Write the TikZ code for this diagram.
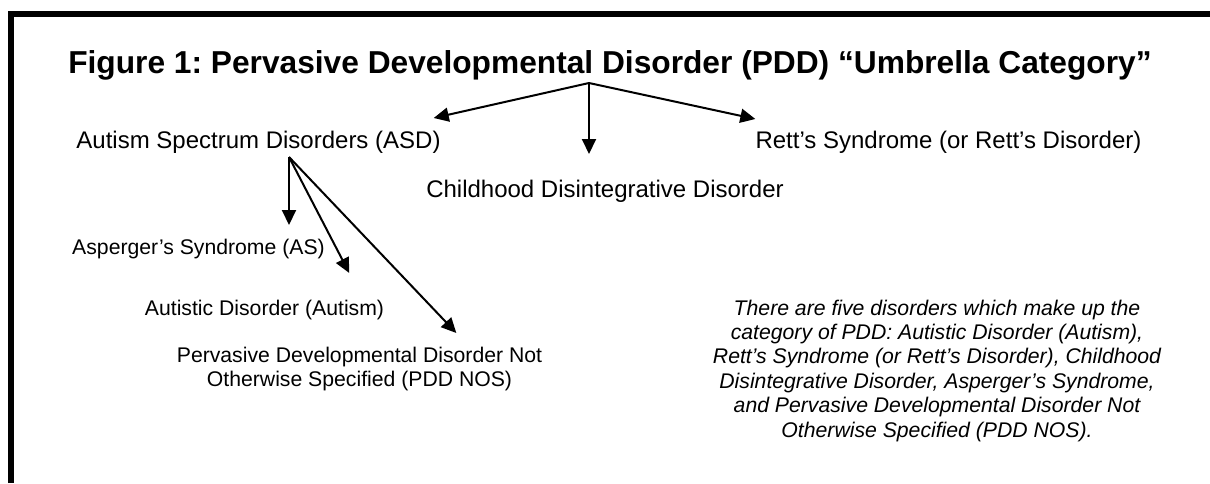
\documentclass[tikz,border=0pt]{standalone}
\usepackage{fontspec}
\setmainfont{Liberation Sans}
\usetikzlibrary{arrows.meta,calc}

\begin{document}
\frenchspacing
\begin{tikzpicture}[x=1pt,y=-1pt,
    >={Triangle[length=15pt,width=14pt]},
    heading/.style={font=\fontsize{31.7}{38}\selectfont\bfseries,inner sep=0pt,anchor=base},
    group/.style={font=\fontsize{24}{28}\selectfont,inner sep=0pt,anchor=base},
    subtype/.style={font=\fontsize{21.2}{23.5}\selectfont,inner sep=0pt,anchor=base,align=center},
    note/.style={font=\fontsize{21.2}{24.4}\selectfont\itshape,inner sep=0pt,anchor=base,align=center},
    branch/.style={line width=2pt,->}]
\useasboundingbox (0,0) rectangle (1210,483);
\draw[line width=5.5pt] (11,483) -- (11,14) -- (1215,14);
\node[heading] (title) at (610,73) {Figure 1: Pervasive Developmental Disorder (PDD) “Umbrella Category”};
\coordinate (top) at (589,83);
\node[group] (asd) at (258.5,148) {Autism Spectrum Disorders (ASD)};
\node[group] (cdd) at (605,197) {Childhood Disintegrative Disorder};
\node[group] (rett) at (948.5,148) {Rett’s Syndrome (or Rett’s Disorder)};
\draw[branch] (top) -- ([xshift=-7pt,yshift=30pt]asd.base east);
\draw[branch,shorten >=43pt] (top) -- (top |- cdd.base);
\draw[branch] (top) -- ([yshift=29pt]rett.base west);
% the three types under ASD
\coordinate (fork) at (289,157);
\node[subtype] (as) at (198.5,254) {Asperger’s Syndrome (AS)};
\node[subtype] (aut) at (264.5,315) {Autistic Disorder (Autism)};
\node[subtype] (nos) at (359.5,386) {Pervasive Developmental Disorder Not\\Otherwise Specified (PDD NOS)};
\draw[branch,shorten >=29pt] (fork) -- (fork |- as.base);
\draw[branch] (fork) -- ([xshift=-35pt,yshift=42pt]aut.base east);
\draw[branch] (fork) -- ([xshift=-86pt,yshift=53pt]nos.base east);
\node[note] (summary) at (937,437) {There are five disorders which make up the\\
    category of PDD: Autistic Disorder (Autism),\\
    Rett’s Syndrome (or Rett’s Disorder), Childhood\\
    Disintegrative Disorder, Asperger’s Syndrome,\\
    and Pervasive Developmental Disorder Not\\
    Otherwise Specified (PDD NOS).};
\end{tikzpicture}
\end{document}
